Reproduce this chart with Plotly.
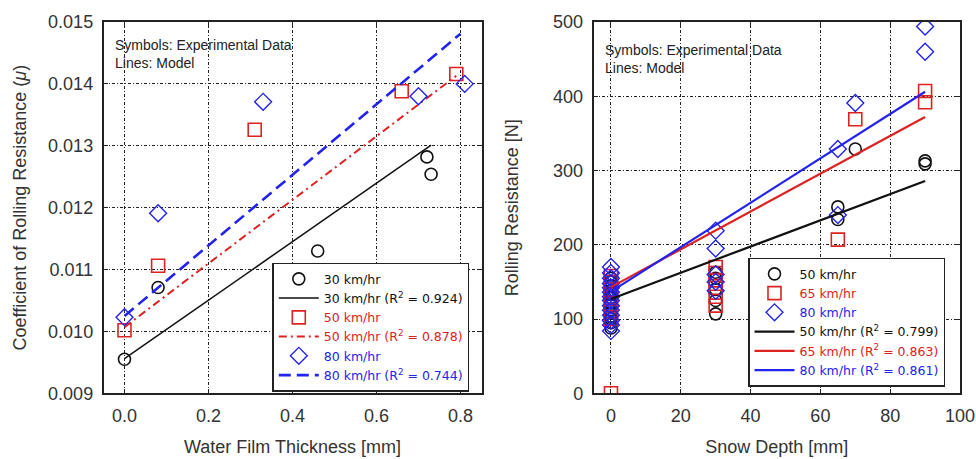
import plotly.graph_objects as go

# ---------------- Water film thickness panel (left) ----------------
wf30_x = [0.0, 0.08, 0.46, 0.72, 0.73]
wf30_y = [0.00955, 0.01071, 0.01130, 0.01282, 0.01254]
wf50_x = [0.0, 0.08, 0.31, 0.66, 0.79]
wf50_y = [0.01002, 0.01106, 0.01326, 0.01388, 0.01416]
wf80_x = [0.0, 0.08, 0.33, 0.70, 0.81]
wf80_y = [0.01023, 0.01191, 0.01371, 0.01380, 0.01400]

# model line end points
wf_model30_x = [0.0, 0.73]
wf_model30_y = [0.00956, 0.01301]
wf_model50_x = [0.0, 0.79]
wf_model50_y = [0.01007, 0.01413]
wf_model80_x = [0.0, 0.80]
wf_model80_y = [0.01025, 0.01481]

wf_r2 = ["0.924", "0.878", "0.744"]
wf_xticks = [0.0, 0.2, 0.4, 0.6, 0.8]
wf_yticks = [0.009, 0.010, 0.011, 0.012, 0.013, 0.014, 0.015]

# ---------------- Snow depth panel (right) ----------------
sd50_x = [0] * 14 + [30] * 5 + [65, 65, 70, 90, 90]
sd50_y = [88, 95, 100, 104, 108, 112, 118, 122, 128, 133, 138, 145, 150, 155,
          107, 125, 140, 155, 163,
          251, 234, 329, 309, 313]
sd65_x = [0] * 8 + [30] * 6 + [65, 70, 90, 90]
sd65_y = [0, 100, 110, 120, 130, 140, 150, 158,
          118, 130, 142, 152, 162, 170,
          207, 369, 407, 392]
sd80_x = [0] * 14 + [30] * 5 + [65, 65, 70, 90, 90]
sd80_y = [84, 92, 98, 105, 112, 118, 125, 130, 136, 142, 148, 155, 162, 170,
          138, 150, 160, 195, 219,
          329, 240, 391, 494, 460]

sd_model50_x = [0, 90]
sd_model50_y = [127, 286]
sd_model65_x = [0, 90]
sd_model65_y = [143, 372]
sd_model80_x = [0, 90]
sd_model80_y = [137, 406]

sd_r2 = ["0.799", "0.863", "0.861"]
sd_xticks = [0, 20, 40, 60, 80, 100]
sd_yticks = [0, 100, 200, 300, 400, 500]

BLACK = "#111111"
RED = "#dd2222"
BLUE = "#2323ee"
FONT = "Liberation Sans, Arial, sans-serif"
LEGEND_FONT = "DejaVu Sans, Liberation Sans, sans-serif"
TXT = "#333333"


def colored(text, color):
    return f'<span style="color:{color}">{text}</span>'


fig = go.Figure()

# left panel: symbols and model lines, interleaved for the legend order
fig.add_trace(go.Scatter(x=wf30_x, y=wf30_y, mode="markers", name=colored("30 km/hr", BLACK),
                         marker=dict(symbol="circle-open", size=12, color=BLACK, line=dict(width=1.6)),
                         xaxis="x", yaxis="y", legend="legend"))
fig.add_trace(go.Scatter(x=wf_model30_x, y=wf_model30_y, mode="lines",
                         name=colored(f"30 km/hr (R<sup>2</sup> = {wf_r2[0]})", BLACK),
                         line=dict(color=BLACK, width=1.5), xaxis="x", yaxis="y", legend="legend"))
fig.add_trace(go.Scatter(x=wf50_x, y=wf50_y, mode="markers", name=colored("50 km/hr", RED),
                         marker=dict(symbol="square-open", size=13, color=RED, line=dict(width=1.6)),
                         xaxis="x", yaxis="y", legend="legend"))
fig.add_trace(go.Scatter(x=wf_model50_x, y=wf_model50_y, mode="lines",
                         name=colored(f"50 km/hr (R<sup>2</sup> = {wf_r2[1]})", RED),
                         line=dict(color=RED, width=2, dash="8px,4px,2px,4px"),
                         xaxis="x", yaxis="y", legend="legend"))
fig.add_trace(go.Scatter(x=wf80_x, y=wf80_y, mode="markers", name=colored("80 km/hr", BLUE),
                         marker=dict(symbol="diamond-open", size=13, color=BLUE, line=dict(width=1.4)),
                         xaxis="x", yaxis="y", legend="legend"))
fig.add_trace(go.Scatter(x=wf_model80_x, y=wf_model80_y, mode="lines",
                         name=colored(f"80 km/hr (R<sup>2</sup> = {wf_r2[2]})", BLUE),
                         line=dict(color=BLUE, width=2.6, dash="12px,6px"),
                         xaxis="x", yaxis="y", legend="legend"))

# right panel: symbols first, then model lines
fig.add_trace(go.Scatter(x=sd50_x, y=sd50_y, mode="markers", name=colored("50 km/hr", BLACK),
                         marker=dict(symbol="circle-open", size=12, color=BLACK, line=dict(width=1.6)),
                         xaxis="x2", yaxis="y2", legend="legend2"))
fig.add_trace(go.Scatter(x=sd65_x, y=sd65_y, mode="markers", name=colored("65 km/hr", RED),
                         marker=dict(symbol="square-open", size=13, color=RED, line=dict(width=1.6)),
                         xaxis="x2", yaxis="y2", legend="legend2"))
fig.add_trace(go.Scatter(x=sd80_x, y=sd80_y, mode="markers", name=colored("80 km/hr", BLUE),
                         marker=dict(symbol="diamond-open", size=13, color=BLUE, line=dict(width=1.4)),
                         xaxis="x2", yaxis="y2", legend="legend2"))
fig.add_trace(go.Scatter(x=sd_model50_x, y=sd_model50_y, mode="lines",
                         name=colored(f"50 km/hr (R<sup>2</sup> = {sd_r2[0]})", BLACK),
                         line=dict(color=BLACK, width=2.2), xaxis="x2", yaxis="y2", legend="legend2"))
fig.add_trace(go.Scatter(x=sd_model65_x, y=sd_model65_y, mode="lines",
                         name=colored(f"65 km/hr (R<sup>2</sup> = {sd_r2[1]})", RED),
                         line=dict(color=RED, width=2.2), xaxis="x2", yaxis="y2", legend="legend2"))
fig.add_trace(go.Scatter(x=sd_model80_x, y=sd_model80_y, mode="lines",
                         name=colored(f"80 km/hr (R<sup>2</sup> = {sd_r2[2]})", BLUE),
                         line=dict(color=BLUE, width=2.2), xaxis="x2", yaxis="y2", legend="legend2"))

W, H = 976, 459


def px_x(p):
    return p / W


def px_y(p):
    return 1 - p / H


axis_common = dict(
    showline=True, linecolor="#222222", linewidth=1.5, mirror="ticks",
    ticks="inside", ticklen=5, tickcolor="#222222",
    showgrid=True, gridcolor="#222222", gridwidth=1, griddash="3px,2px,1px,2px",
    zeroline=False, tickfont=dict(family=FONT, size=18, color=TXT),
    ticklabelstandoff=5, automargin=False,
)

legend_common = dict(
    xanchor="right", yanchor="bottom",
    bgcolor="white", bordercolor="#222222", borderwidth=1.5,
    font=dict(family=LEGEND_FONT, size=12.5, color=BLACK), itemwidth=40,
    tracegroupgap=0,
)

fig.update_layout(
    width=W, height=H,
    margin=dict(l=0, r=0, t=0, b=0, autoexpand=False),
    paper_bgcolor="white", plot_bgcolor="white",
    font=dict(family=FONT, color=TXT),
    xaxis=dict(axis_common, domain=[px_x(103.5), px_x(481.5)], range=[-0.05, 0.85],
               tickvals=wf_xticks, tickformat=".1f", anchor="y",
               title=dict(text="Water Film Thickness [mm]", standoff=16,
                          font=dict(family=FONT, size=18, color=TXT))),
    yaxis=dict(axis_common, domain=[px_y(393.3), px_y(22)], range=[0.009, 0.015],
               tickvals=wf_yticks, tickformat=".3f", anchor="x",
               title=dict(text="Coefficient of Rolling Resistance (<i>μ</i>)", standoff=17,
                          font=dict(family=FONT, size=18, color=TXT))),
    xaxis2=dict(axis_common, domain=[px_x(593.5), px_x(960)], range=[-5, 100],
                tickvals=sd_xticks, anchor="y2",
                title=dict(text="Snow Depth [mm]", standoff=16,
                           font=dict(family=FONT, size=18, color=TXT))),
    yaxis2=dict(axis_common, domain=[px_y(393.3), px_y(22)], range=[0, 500],
                tickvals=sd_yticks, anchor="x2",
                title=dict(text="Rolling Resistance [N]", standoff=30,
                           font=dict(family=FONT, size=18, color=TXT))),
    legend=dict(legend_common, x=px_x(469.3), y=px_y(391.7)),
    legend2=dict(legend_common, x=px_x(945), y=px_y(386.7)),
    annotations=[
        dict(text="Symbols: Experimental Data<br>Lines: Model", xref="paper", yref="paper",
             x=px_x(113), y=px_y(35), xanchor="left", yanchor="top", align="left",
             showarrow=False, font=dict(family=FONT, size=14, color="#222222")),
        dict(text="Symbols: Experimental Data<br>Lines: Model", xref="paper", yref="paper",
             x=px_x(603), y=px_y(40), xanchor="left", yanchor="top", align="left",
             showarrow=False, font=dict(family=FONT, size=14, color="#222222")),
    ],
)

# the figure fills the page exactly, so drop the browser's default body margin
fig.write_html(
    "out.html",
    post_script="document.body.style.margin='0';document.body.style.overflow='hidden';",
)
